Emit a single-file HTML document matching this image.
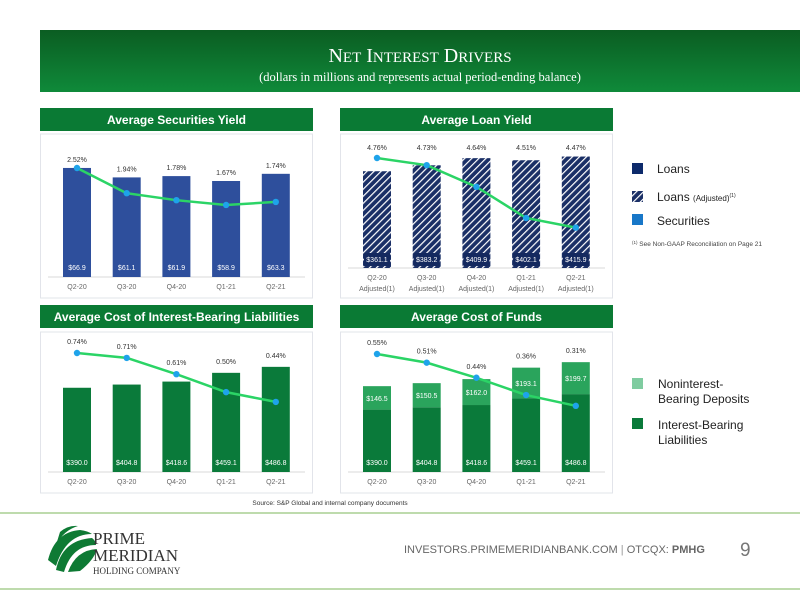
<!DOCTYPE html>
<html><head><meta charset="utf-8"><style>
body{margin:0;width:800px;height:600px;overflow:hidden;background:#fff;font-family:"Liberation Sans",sans-serif}
svg{display:block}
</style></head><body>
<svg id="s" width="800" height="600" xmlns="http://www.w3.org/2000/svg">
<defs>
<linearGradient id="hg" x1="0" y1="0" x2="0" y2="1"><stop offset="0" stop-color="#0b5d22"/><stop offset="1" stop-color="#0f8a3a"/></linearGradient>
<pattern id="hatch" width="5" height="5" patternUnits="userSpaceOnUse" patternTransform="rotate(45)"><rect width="5" height="5" fill="#1a2f66"/><rect width="1.2" height="5" fill="#ffffff"/></pattern>
</defs>
<rect x="40" y="30" width="760" height="62" fill="url(#hg)"/>
<text x="420" y="62" text-anchor="middle" fill="#fff" font-family="Liberation Serif,serif" font-size="20">N<tspan font-size="15">ET</tspan> I<tspan font-size="15">NTEREST</tspan> D<tspan font-size="15">RIVERS</tspan></text>
<text x="420" y="81" text-anchor="middle" fill="#fff" font-family="Liberation Serif,serif" font-size="12.5">(dollars in millions and represents actual period-ending balance)</text>
<g id="charts"></g>
<rect x="632" y="163" width="11" height="11" fill="#0d2a6b"/>
<text x="657" y="173" font-size="12" fill="#222">Loans</text>
<rect x="632" y="191" width="11" height="11" fill="url(#hatch)"/>
<text x="657" y="201" font-size="12" fill="#222">Loans <tspan font-size="8">(Adjusted)</tspan><tspan font-size="5" dy="-4">(1)</tspan></text>
<rect x="632" y="214" width="11" height="11" fill="#1877c8"/>
<text x="657" y="225" font-size="12" fill="#222">Securities</text>
<text x="632" y="246" font-size="6.5" fill="#444"><tspan font-size="4.5" dy="-2">(1)</tspan><tspan dy="2"> See Non-GAAP Reconciliation on Page 21</tspan></text>
<rect x="632" y="378" width="11" height="11" fill="#7fcca0"/>
<text x="658" y="388" font-size="12" fill="#222">Noninterest-<tspan x="658" dy="15">Bearing Deposits</tspan></text>
<rect x="632" y="418" width="11" height="11" fill="#0a7a3a"/>
<text x="658" y="429" font-size="12" fill="#222">Interest-Bearing<tspan x="658" dy="15">Liabilities</tspan></text>
<text x="330" y="505" font-size="6.5" text-anchor="middle" fill="#333">Source: S&amp;P Global and internal company documents</text>
<line x1="0" y1="513" x2="800" y2="513" stroke="#a9cf92" stroke-width="1.5"/>
<line x1="0" y1="589" x2="800" y2="589" stroke="#a9cf92" stroke-width="1.5"/>
<g fill="#0e7a34">
<path d="M60 532 Q68 525 78 526 Q64 530 56 545 Z"/>
<path d="M48 560 Q55 532 80 530 Q88 531 92 534 Q66 534 56 566 Z"/>
<path d="M56 570 Q62 540 92 538 Q96 541 96 545 Q72 545 64 572 Z"/>
<path d="M68 572 Q76 550 97 549 Q94 560 80 571 Z"/>
</g>
<text x="93" y="544" font-family="Liberation Serif,serif" font-size="17" fill="#333">PRIME</text>
<text x="93" y="561" font-family="Liberation Serif,serif" font-size="17" fill="#333">MERIDIAN</text>
<text x="93" y="574" font-family="Liberation Serif,serif" font-size="9" fill="#333">HOLDING COMPANY</text>
<text x="404" y="553" font-size="11" fill="#666">INVESTORS.PRIMEMERIDIANBANK.COM  <tspan fill="#999">|</tspan>  OTCQX: <tspan font-weight="bold">PMHG</tspan></text>
<text x="740" y="556" font-size="19" fill="#777">9</text>
</svg>
<script>
const cats=["Q2-20","Q3-20","Q4-20","Q1-21","Q2-21"];
const secBal=[66.9,61.1,61.9,58.9,63.3];
const secYield=[2.52,1.94,1.78,1.67,1.74];
const loanBal=[361.1,383.2,409.9,402.1,415.9];
const loanYield=[4.76,4.73,4.64,4.51,4.47];
const ibl=[390.0,404.8,418.6,459.1,486.8];
const iblCost=[0.74,0.71,0.61,0.50,0.44];
const nib=[146.5,150.5,162.0,193.1,199.7];
const fundCost=[0.55,0.51,0.44,0.36,0.31];

const NS="http://www.w3.org/2000/svg";
const root=document.getElementById('charts');
function el(t,a,p){const e=document.createElementNS(NS,t);for(const k in a)e.setAttribute(k,a[k]);(p||root).appendChild(e);return e;}
function txt(x,y,s,a,p){const e=el('text',Object.assign({x:x,y:y,'text-anchor':'middle','font-size':7.5,fill:'#333'},a),p);e.textContent=s;return e;}

function panel(key,x0,y0,title,boxTop,boxBot){
  const g=el('g',{});
  
  
  const b=el('rect',{x:x0,y:y0,width:273,height:23,fill:'#0a7a34'},g);
  
  
  const t=txt(x0+136.5,y0+16,title,{fill:'#fff','font-size':12,'font-weight':'bold'},g);
  
  
  const bx=el('rect',{x:x0+0.5,y:boxTop,width:272,height:boxBot-boxTop,fill:'none',stroke:'#e2e4ea'},g);
  
  
  return g;
}
function xPos(x0,i){return x0+37+i*49.7;}

function lineSeries(g,key,x0,vals,yf){
  let d='';
  vals.forEach((v,i)=>{d+=(i?'L':'M')+xPos(x0,i)+' '+yf(v);});
  const p=el('path',{d:d,fill:'none',stroke:'#2bd466','stroke-width':2.5},g);
  
  
  vals.forEach((v,i)=>{
    const c=el('circle',{cx:xPos(x0,i),cy:yf(v),r:3.2,fill:'#1ea3ea'},g);
    
    
  });
}
function baseline(g,key,x0,y){
  const l=el('line',{x1:x0+8,x2:x0+265,y1:y,y2:y,stroke:'#d8d8d8'},g);
  
  
}

(function(){
  const x0=40,base=277,g=panel('securities-yield',x0,108,'Average Securities Yield',134,298);
  const yb=v=>base-v*1.63, yl=v=>168-(v-2.52)*43.5;
  baseline(g,'securities-yield',x0,base);
  secBal.forEach((v,i)=>{
    const x=xPos(x0,i);
    const r=el('rect',{x:x-14,y:yb(v),width:28,height:base-yb(v),fill:'#2e4f9c'},g);
    
    
    const t=txt(x,base-7,'$'+v.toFixed(1),{fill:'#fff','font-size':7},g);
    
    
    const p=txt(x,Math.min(yb(v),yl(secYield[i]))-6,secYield[i].toFixed(2)+'%',{'font-size':7},g);
    
    
    const c=txt(x,289,cats[i],{'font-size':7,fill:'#666'},g);
    
    
  });
  lineSeries(g,'securities-yield',x0,secYield,yl);
})();

(function(){
  const x0=340,base=268,g=panel('loan-yield',x0,108,'Average Loan Yield',134,298);
  const yb=v=>base-v*0.268, yl=v=>158+(4.76-v)*240;
  baseline(g,'loan-yield',x0,base);
  loanBal.forEach((v,i)=>{
    const x=xPos(x0,i);
    const r=el('rect',{x:x-14,y:yb(v),width:28,height:base-yb(v),fill:'url(#hatch)'},g);
    
    
    const bx=el('rect',{x:x-13,y:base-15,width:26,height:13,fill:'#14295f'},g);
    
    
    const t=txt(x,base-6,'$'+v.toFixed(1),{fill:'#fff','font-size':7},g);
    
    
    const p=txt(x,150,loanYield[i].toFixed(2)+'%',{'font-size':7},g);
    
    
    const c=txt(x,280,cats[i],{'font-size':7,fill:'#666'},g);
    
    
    const c2=txt(x,291,'Adjusted(1)',{'font-size':7,fill:'#666'},g);
    
    
  });
  lineSeries(g,'loan-yield',x0,loanYield,yl);
})();

(function(){
  const x0=40,base=472,g=panel('ibl-cost',x0,305,'Average Cost of Interest-Bearing Liabilities',332,493);
  const yb=v=>base-v*0.216, yl=v=>353+(0.74-v)*163;
  baseline(g,'ibl-cost',x0,base);
  ibl.forEach((v,i)=>{
    const x=xPos(x0,i);
    const r=el('rect',{x:x-14,y:yb(v),width:28,height:base-yb(v),fill:'#0a7a3a'},g);
    
    
    const t=txt(x,base-7,'$'+v.toFixed(1),{fill:'#fff','font-size':7},g);
    
    
    const p=txt(x,Math.min(yb(v),yl(iblCost[i]))-9,iblCost[i].toFixed(2)+'%',{'font-size':7},g);
    
    
    const c=txt(x,484,cats[i],{'font-size':7,fill:'#666'},g);
    
    
  });
  lineSeries(g,'ibl-cost',x0,iblCost,yl);
})();

(function(){
  const x0=340,base=472,g=panel('funds-cost',x0,305,'Average Cost of Funds',332,493);
  const h=v=>v*0.16, yl=v=>354+(0.55-v)*216;
  baseline(g,'funds-cost',x0,base);
  ibl.forEach((v,i)=>{
    const x=xPos(x0,i);
    const top1=base-h(v), top2=top1-h(nib[i]);
    const r=el('rect',{x:x-14,y:top1,width:28,height:h(v),fill:'#0a7a3a'},g);
    
    
    const r2=el('rect',{x:x-14,y:top2,width:28,height:h(nib[i]),fill:'#2aa45c'},g);
    
    
    const t=txt(x,base-7,'$'+v.toFixed(1),{fill:'#fff','font-size':7},g);
    
    
    const t2=txt(x,(top1+top2)/2+3,'$'+nib[i].toFixed(1),{fill:'#fff','font-size':7},g);
    
    
    const p=txt(x,Math.min(top2,yl(fundCost[i]))-9,fundCost[i].toFixed(2)+'%',{'font-size':7},g);
    
    
    const c=txt(x,484,cats[i],{'font-size':7,fill:'#666'},g);
    
    
  });
  lineSeries(g,'funds-cost',x0,fundCost,yl);
})();
</script>
</body></html>
